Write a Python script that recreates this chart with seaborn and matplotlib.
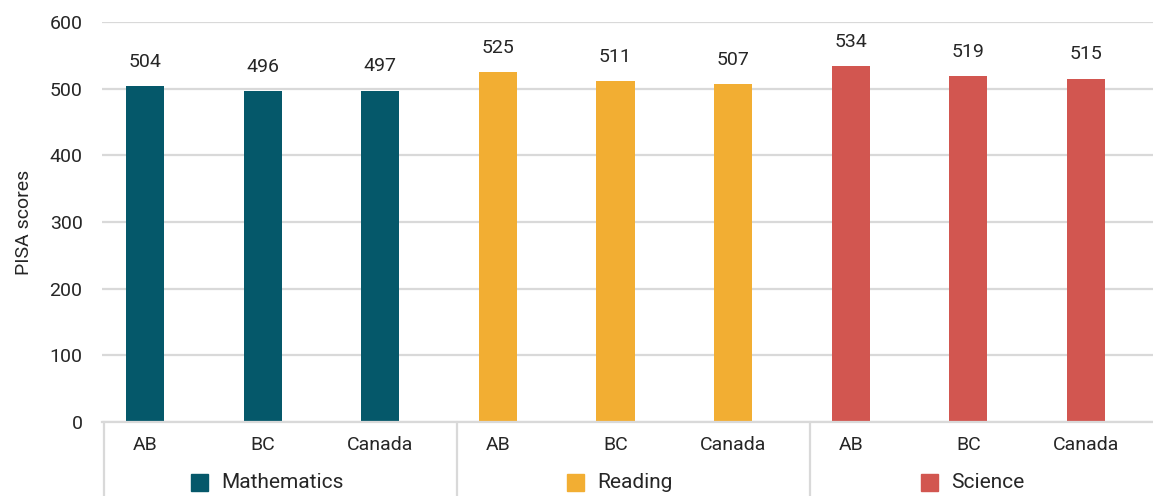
import pandas as pd
import numpy as np
import matplotlib
matplotlib.use("Agg")
import matplotlib.pyplot as plt
import matplotlib.transforms as mtransforms
import seaborn as sns

# data
subjects = ["Mathematics", "Reading", "Science"]
regions = ["AB", "BC", "Canada"]
math_scores = [504, 496, 497]
reading_scores = [525, 511, 507]
science_scores = [534, 519, 515]
colors = {"Mathematics": "#05586a", "Reading": "#f2ae33", "Science": "#d25650"}

rows = []
for subj, vals in zip(subjects, [math_scores, reading_scores, science_scores]):
    for reg, v in zip(regions, vals):
        rows.append({"key": f"{subj}|{reg}", "subject": subj, "region": reg, "score": v})
df = pd.DataFrame(rows)

sns.set_style("white")
plt.rcParams["font.family"] = ["Roboto", "DejaVu Sans"]

fig = plt.figure(figsize=(11.53, 4.96), dpi=100)
ax = fig.add_axes([102 / 1153, 1 - 422 / 496, 1 - 102 / 1153, 400 / 496])

sns.barplot(data=df, x="key", y="score", hue="subject", palette=colors,
            dodge=False, width=0.325, order=df["key"], ax=ax, legend=False,
            edgecolor="none", saturation=1)

ax.set_ylim(0, 600)
ax.set_xlim(-0.366, 8.57)
ax.set_yticks(range(0, 601, 100))
ax.grid(axis="y", color="#d9d9d9", linewidth=1.6)
ax.set_axisbelow(True)
for s in ["top", "right", "left"]:
    ax.spines[s].set_visible(False)
ax.spines["bottom"].set_color("#d9d9d9")
ax.spines["bottom"].set_linewidth(1.6)

ax.set_xticks(range(len(df)))
ax.set_xticklabels(df["region"], fontsize=14)
ax.tick_params(axis="x", length=0, pad=10)
ax.tick_params(axis="y", length=0, pad=14, labelsize=14)
ax.set_xlabel("")
ax.set_ylabel("PISA scores", fontsize=14, labelpad=12)

# value labels above bars
for i, v in enumerate(df["score"]):
    ax.annotate(str(v), (i, v), xytext=(0, 11), textcoords="offset points",
                ha="center", va="bottom", fontsize=14,
                bbox=dict(facecolor="white", edgecolor="none", pad=2))

# group separators and group labels with colour squares
trans = mtransforms.blended_transform_factory(ax.transData, ax.transAxes)
n = len(regions)
labels = []
for g, subj in enumerate(subjects):
    left = g * n - 0.35
    ax.plot([left, left], [0, -0.2], transform=trans, color="#d9d9d9",
            linewidth=1.6, clip_on=False)
    center = g * n + (n - 1) / 2 + 0.13
    t = ax.annotate(subj, (center, -0.15), xycoords=trans, xytext=(3, 0),
                    textcoords="offset points", ha="center", va="center",
                    fontsize=15)
    labels.append(t)

fig.canvas.draw()
for subj, t in zip(subjects, labels):
    bb = t.get_window_extent()
    x0 = bb.x0 - 13 - 8.5
    y0 = (bb.y0 + bb.y1) / 2
    fig.patches.append(plt.Rectangle((x0 - 8.5, y0 - 8.5), 17, 17,
                                     transform=None, color=colors[subj]))

fig.savefig("out.png", dpi=100)
